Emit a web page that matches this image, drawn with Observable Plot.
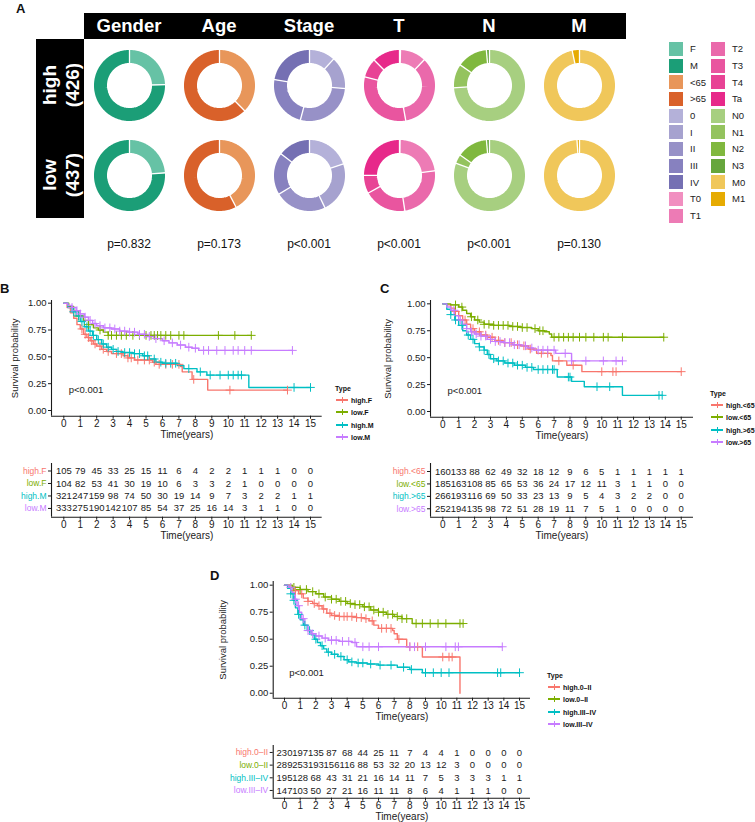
<!DOCTYPE html>
<html><head><meta charset="utf-8">
<script src="https://cdn.jsdelivr.net/npm/d3@7"></script>
<script src="https://cdn.jsdelivr.net/npm/@observablehq/plot@0.6"></script>
<style>
body{margin:0;background:#fff;}
#fig{position:relative;width:755px;height:822px;overflow:hidden;background:#fff;font-family:"Liberation Sans",Arial,Helvetica,sans-serif;color:#111;}
.abs{position:absolute;white-space:nowrap;line-height:1;}
.abs svg{display:block}
</style></head><body><div id="fig"></div>
<script>
const FONT = '"Liberation Sans", Arial, Helvetica, sans-serif';
const fig = document.getElementById("fig");

// ---------- Panel A: clinical composition of the two risk groups ----------
const variables = ["Gender", "Age", "Stage", "T", "N", "M"];
const riskGroups = ["high", "low"];
const riskGroupSizes = [426, 437];
const pValues = ["p=0.832", "p=0.173", "p<0.001", "p<0.001", "p<0.001", "p=0.130"];

const genderLevels = ["F", "M"];
const genderColors = ["#66c2a5", "#1b9e77"];
const genderHigh = [105, 321];
const genderLow = [104, 333];

const ageLevels = ["<65", ">65"];
const ageColors = ["#e8965a", "#d9612a"];
const ageHigh = [160, 266];
const ageLow = [185, 252];

const stageLevels = ["0", "I", "II", "III", "IV"];
const stageColors = ["#b4b1d9", "#a6a2cf", "#9791c7", "#8781bf", "#7570b3"];
const stageHigh = [50, 62, 118, 100, 95];
const stageLow = [86, 101, 102, 83, 64];

const tLevels = ["T0", "T1", "T2", "T3", "T4", "Ta"];
const tColors = ["#f18fc0", "#ed7bb5", "#ea69ab", "#e9559f", "#e84395", "#e7298a"];
const tHigh = [2, 50, 149, 135, 37, 53];
const tLow = [1, 99, 108, 84, 36, 109];

const nLevels = ["N0", "N1", "N2", "N3"];
const nColors = ["#a7cf80", "#94c35e", "#80b83e", "#66a63c"];
const nHigh = [315, 46, 59, 6];
const nLow = [352, 18, 61, 6];

const mLevels = ["M0", "M1"];
const mColors = ["#f0c75a", "#e6ab02"];
const mHigh = [412, 14];
const mLow = [432, 5];

// ---------- Panels B-D: Kaplan-Meier curves ----------
const years = d3.range(0, 16);
const survTicks = [0, 0.25, 0.5, 0.75, 1];
const kmColors = ["#F8766D", "#7CAE00", "#00BFC4", "#C77CFF"];

// B: risk group x gender
const typesB = ["high.F", "low.F", "high.M", "low.M"];
const survHighF = [[0,1],[0.2,0.96],[0.4,0.91],[0.6,0.86],[0.8,0.80],[1.0,0.76],[1.2,0.71],[1.4,0.68],[1.6,0.65],[1.8,0.62],[2.0,0.60],[2.3,0.57],[2.6,0.55],[2.9,0.53],[3.6,0.51],[3.9,0.49],[4.3,0.47],[5.4,0.45],[5.6,0.43],[7.1,0.41],[7.2,0.36],[7.8,0.29],[8.75,0.19],[13.6,0.19]];
const survLowF = [[0,1],[0.3,0.97],[0.6,0.93],[0.9,0.88],[1.2,0.84],[1.5,0.80],[1.8,0.77],[2.1,0.75],[2.4,0.73],[2.7,0.70],[11.4,0.70]];
const survHighM = [[0,1],[0.25,0.96],[0.5,0.92],[0.75,0.88],[1.0,0.83],[1.25,0.78],[1.5,0.74],[1.75,0.70],[2.0,0.66],[2.3,0.62],[2.6,0.59],[2.9,0.57],[3.2,0.55],[3.6,0.54],[4.2,0.53],[4.8,0.51],[5.2,0.48],[5.6,0.45],[6.0,0.44],[6.9,0.42],[7.3,0.39],[8.1,0.36],[8.7,0.33],[11.25,0.215],[15,0.215]];
const survLowM = [[0,1],[0.25,0.98],[0.5,0.96],[0.75,0.93],[1.0,0.90],[1.25,0.87],[1.5,0.84],[1.75,0.81],[2.0,0.79],[2.4,0.77],[2.9,0.76],[3.4,0.74],[3.9,0.73],[4.5,0.71],[5.0,0.69],[5.5,0.67],[6.0,0.65],[6.4,0.63],[6.9,0.61],[7.4,0.59],[7.8,0.58],[8.2,0.56],[13.9,0.56]];
const censHighF = [1.1,1.3,1.5,1.7,1.9,2.2,2.4,2.7,3.2,3.5,3.9,4.1,4.5,4.9,5.2,5.5,5.8,6.2,6.6,7.0,7.9,10.1,13.6];
const censLowF = [0.9,1.5,2.2,2.7,2.9,3.2,3.5,3.8,4.2,4.6,5.0,5.3,5.5,5.7,5.9,6.2,6.5,7.0,7.3,9.4,10.4,11.4];
const censHighM = [0.6,0.9,1.1,1.4,1.6,1.8,2.1,2.4,2.7,3.0,3.3,3.7,4.0,4.3,4.6,4.9,5.1,5.5,5.9,6.2,6.5,6.8,7.6,8.3,8.9,9.5,10.0,10.3,10.6,10.8,14.0,15.0];
const censLowM = [0.5,0.8,1.0,1.3,1.6,1.9,2.2,2.5,2.8,3.1,3.4,3.7,4.0,4.3,4.6,4.9,5.2,5.6,6.1,6.6,7.1,7.6,8.0,8.5,8.8,9.3,9.8,10.3,10.6,11.0,11.4,13.9];
const riskHighF = [105,79,45,33,25,15,11,6,4,2,2,1,1,1,0,0];
const riskLowF = [104,82,53,41,30,19,10,6,3,3,2,1,0,0,0,0];
const riskHighM = [321,247,159,98,74,50,30,19,14,9,7,3,2,2,1,1];
const riskLowM = [333,275,190,142,107,85,54,37,25,16,14,3,1,1,0,0];

// C: risk group x age
const typesC = ["high.<65", "low.<65", "high.>65", "low.>65"];
const survHighYoung = [[0,1],[0.25,0.99],[0.5,0.96],[0.75,0.93],[1.0,0.89],[1.25,0.85],[1.5,0.81],[1.75,0.77],[2.0,0.74],[2.4,0.71],[2.8,0.69],[3.3,0.66],[3.8,0.64],[4.4,0.62],[4.9,0.61],[5.4,0.58],[5.9,0.54],[6.8,0.52],[6.9,0.47],[7.8,0.43],[8.75,0.37],[15,0.37]];
const survLowYoung = [[0,1],[0.5,0.99],[1.0,0.97],[1.25,0.94],[1.5,0.91],[1.75,0.88],[2.0,0.85],[2.3,0.83],[2.6,0.81],[3.2,0.80],[4.2,0.79],[4.9,0.78],[5.6,0.77],[6.0,0.75],[6.4,0.74],[6.7,0.72],[6.85,0.69],[13.9,0.69]];
const survHighOld = [[0,1],[0.25,0.95],[0.5,0.90],[0.75,0.85],[1.0,0.80],[1.25,0.75],[1.5,0.71],[1.75,0.67],[2.0,0.63],[2.3,0.60],[2.6,0.57],[2.8,0.53],[3.0,0.49],[3.4,0.47],[3.9,0.45],[4.5,0.43],[5.2,0.41],[5.7,0.39],[7.2,0.32],[8.1,0.28],[8.9,0.23],[11.3,0.15],[13.8,0.15]];
const survLowOld = [[0,1],[0.25,0.97],[0.5,0.94],[0.75,0.89],[1.0,0.85],[1.25,0.81],[1.5,0.77],[1.75,0.74],[2.0,0.72],[2.4,0.70],[2.8,0.67],[3.3,0.65],[3.8,0.64],[4.4,0.62],[4.9,0.61],[5.3,0.59],[5.7,0.57],[7.1,0.54],[8.1,0.47],[11.3,0.47]];
const censHighYoung = [0.8,1.4,1.9,2.3,2.7,3.1,3.5,3.9,4.3,4.7,5.1,5.5,6.2,6.6,7.3,8.2,10.0,10.7,10.9,15.0];
const censLowYoung = [0.8,1.2,1.8,2.2,2.6,2.9,3.2,3.5,3.8,4.1,4.4,4.7,5.0,5.3,5.8,6.1,6.3,7.0,7.3,7.6,7.9,8.2,8.6,9.0,9.5,10.1,10.4,11.3,13.9];
const censHighOld = [0.5,0.8,1.2,1.6,1.9,2.3,2.6,2.9,3.2,3.5,3.8,4.1,4.4,4.7,5.0,5.3,5.6,6.0,6.3,6.6,6.9,7.0,7.9,8.0,9.7,10.5,13.6,13.8];
const censLowOld = [0.7,1.1,1.5,1.8,2.1,2.4,2.7,3.0,3.3,3.6,3.9,4.2,4.5,4.8,5.2,5.6,6.0,6.3,6.6,7.0,7.7,8.1,9.0,10.1,10.9,11.3];
const riskHighYoung = [160,133,88,62,49,32,18,12,9,6,5,1,1,1,1,1];
const riskLowYoung = [185,163,108,85,65,53,36,24,17,12,11,3,1,1,0,0];
const riskHighOld = [266,193,116,69,50,33,23,13,9,5,4,3,2,2,0,0];
const riskLowOld = [252,194,135,98,72,51,28,19,11,7,5,1,0,0,0,0];

// D: risk group x stage
const typesD = ["high.0–II", "low.0–II", "high.III–IV", "low.III–IV"];
const survHighEarly = [[0,1],[0.3,0.98],[0.6,0.95],[0.9,0.92],[1.2,0.88],[1.5,0.85],[1.8,0.83],[2.1,0.81],[2.4,0.78],[2.7,0.74],[3.0,0.72],[3.5,0.71],[4.6,0.70],[5.1,0.69],[5.4,0.67],[5.7,0.63],[6.0,0.60],[6.9,0.58],[7.0,0.55],[7.2,0.50],[7.8,0.43],[8.8,0.335],[11.2,0]];
const survLowEarly = [[0,1],[0.5,0.98],[1.0,0.96],[1.5,0.94],[2.0,0.92],[2.5,0.89],[3.0,0.87],[3.5,0.85],[4.0,0.83],[4.5,0.82],[5.0,0.80],[5.5,0.77],[6.0,0.75],[6.5,0.73],[7.0,0.71],[7.5,0.69],[8.15,0.645],[11.4,0.645]];
const survHighLate = [[0,1],[0.2,0.97],[0.4,0.92],[0.55,0.86],[0.7,0.79],[0.85,0.73],[1.0,0.68],[1.2,0.63],[1.45,0.58],[1.7,0.54],[1.9,0.50],[2.1,0.47],[2.3,0.44],[2.5,0.41],[2.7,0.38],[3.0,0.36],[3.4,0.34],[3.8,0.31],[4.1,0.29],[4.6,0.28],[5.3,0.27],[6.0,0.26],[7.2,0.24],[8.0,0.22],[8.8,0.19],[15,0.19]];
const survLowLate = [[0,1],[0.3,0.98],[0.5,0.93],[0.65,0.87],[0.8,0.81],[0.95,0.75],[1.1,0.69],[1.3,0.63],[1.5,0.58],[1.7,0.55],[2.0,0.53],[2.4,0.51],[2.8,0.49],[3.5,0.48],[4.3,0.47],[4.6,0.43],[13.9,0.43]];
const censHighEarly = [0.7,1.1,1.5,1.9,2.2,2.5,2.9,3.2,3.5,3.8,4.0,4.3,4.6,4.9,5.2,5.6,6.2,6.5,6.8,7.3,8.0,8.5,10.1,10.5,10.7];
const censLowEarly = [0.6,1.0,1.4,1.8,2.2,2.6,3.0,3.3,3.6,3.9,4.2,4.5,4.8,5.1,5.4,5.7,6.0,6.3,6.6,6.9,7.2,7.5,7.8,8.4,8.8,9.3,9.8,10.3,11.2,11.4];
const censHighLate = [0.4,0.6,0.9,1.3,1.6,2.0,2.4,2.8,3.2,3.6,4.0,4.3,4.7,5.0,5.5,6.1,6.8,7.6,8.1,9.0,9.5,10.0,10.5,13.6,13.8,15.0];
const censLowLate = [0.4,0.7,0.9,1.2,1.5,1.8,2.2,2.6,3.0,3.3,3.7,4.1,4.5,5.0,5.4,6.0,8.0,8.3,9.0,10.3,10.9,11.1,13.9];
const riskHighEarly = [230,197,135,87,68,44,25,11,7,4,4,1,0,0,0,0];
const riskLowEarly = [289,253,193,156,116,88,53,32,20,13,12,3,0,0,0,0];
const riskHighLate = [195,128,68,43,31,21,16,14,11,7,5,3,3,3,1,1];
const riskLowLate = [147,103,50,27,21,16,11,11,8,6,4,1,1,1,0,0];

// ---------- helpers ----------
function text(str, x, baseline, {size = 12, weight = "normal", color = "#111", anchor = "start"} = {}) {
  const d = document.createElement("div");
  d.className = "abs";
  d.textContent = str;
  d.style.fontSize = size + "px";
  d.style.fontWeight = weight;
  d.style.color = color;
  d.style.left = x + "px";
  d.style.top = (baseline - 0.8465 * size) + "px";
  if (anchor === "middle") d.style.transform = "translateX(-50%)";
  if (anchor === "end") d.style.transform = "translateX(-100%)";
  fig.appendChild(d);
  return d;
}
function rotatedText(str, cx, cy, size, color) {
  const d = document.createElement("div");
  d.className = "abs";
  d.textContent = str;
  d.style.fontSize = size + "px";
  d.style.fontWeight = "bold";
  d.style.color = color;
  d.style.left = cx + "px";
  d.style.top = cy + "px";
  d.style.transform = "translate(-50%,-50%) rotate(-90deg)";
  fig.appendChild(d);
}
function rect(x, y, w, h, fill) {
  const d = document.createElement("div");
  d.className = "abs";
  Object.assign(d.style, {left: x + "px", top: y + "px", width: w + "px", height: h + "px", background: fill});
  fig.appendChild(d);
}
function place(node, left, top) {
  const w = document.createElement("div");
  w.className = "abs";
  w.style.left = left + "px";
  w.style.top = top + "px";
  w.appendChild(node);
  fig.appendChild(w);
}
function stepAt(curve, t) {
  let s = curve[0][1];
  for (const [tt, ss] of curve) { if (tt <= t) s = ss; else break; }
  return s;
}

// ---------- Panel A ----------
const donutVars = [
  {name: "Gender", levels: genderLevels, colors: genderColors, high: genderHigh, low: genderLow},
  {name: "Age", levels: ageLevels, colors: ageColors, high: ageHigh, low: ageLow},
  {name: "Stage", levels: stageLevels, colors: stageColors, high: stageHigh, low: stageLow},
  {name: "T", levels: tLevels, colors: tColors, high: tHigh, low: tLow},
  {name: "N", levels: nLevels, colors: nColors, high: nHigh, low: nLow},
  {name: "M", levels: mLevels, colors: mColors, high: mHigh, low: mLow}
];
const gridLeft = 84, gridTop = 40, cell = 90;
const R_MID = 0.806, R_IN = 0.6, R_OUT = 1.02;

const arcRows = [], sepRows = [];
for (const v of donutVars) {
  for (const g of riskGroups) {
    const counts = v[g];
    const total = d3.sum(counts);
    let acc = 0;
    counts.forEach((c, i) => {
      const a0 = acc / total * 2 * Math.PI;
      acc += c;
      const a1 = acc / total * 2 * Math.PI;
      const n = Math.max(2, Math.ceil((a1 - a0) / (Math.PI / 90)));
      for (let k = 0; k <= n; ++k) {
        const a = a0 + (a1 - a0) * k / n;
        arcRows.push({variable: v.name, group: g, level: v.levels[i], key: `${v.name}-${g}-${i}`,
                      x: R_MID * Math.sin(a), y: R_MID * Math.cos(a)});
      }
      sepRows.push({variable: v.name, group: g, a: a0});
    });
  }
}
const allLevels = donutVars.flatMap(v => v.levels);
const allColors = donutVars.flatMap(v => v.colors);

const donuts = Plot.plot({
  width: cell * variables.length,
  height: cell * riskGroups.length,
  margin: 0,
  fx: {domain: variables, axis: null, padding: 0},
  fy: {domain: riskGroups, axis: null, padding: 0},
  x: {domain: [-1.25, 1.25], axis: null},
  y: {domain: [-1.25, 1.25], axis: null},
  color: {domain: allLevels, range: allColors},
  style: {background: "transparent", overflow: "visible"},
  marks: [
    Plot.line(arcRows, {fx: "variable", fy: "group", x: "x", y: "y", z: "key", stroke: "level",
                        strokeWidth: 13, strokeLinecap: "butt", strokeLinejoin: "round"}),
    Plot.link(sepRows, {fx: "variable", fy: "group",
                        x1: d => R_IN * Math.sin(d.a), y1: d => R_IN * Math.cos(d.a),
                        x2: d => R_OUT * Math.sin(d.a), y2: d => R_OUT * Math.cos(d.a),
                        stroke: "white", strokeWidth: 1.3})
  ]
});

// header strips
rect(gridLeft, 13, cell * variables.length + 2, 26, "#000");
rect(36, 39, gridLeft - 36, cell * riskGroups.length - 1, "#000");
variables.forEach((v, i) => text(v, gridLeft + cell * i + cell / 2, 33, {size: 18.5, weight: "bold", color: "#fff", anchor: "middle"}));
riskGroups.forEach((g, i) => {
  const cy = gridTop + cell * i + cell / 2;
  rotatedText(g, 48.5, cy, 19, "#fff");
  rotatedText(`(${riskGroupSizes[i]})`, 72, cy - 0.5, 19, "#fff");
});
place(donuts, gridLeft, gridTop);
pValues.forEach((p, i) => text(p, gridLeft + cell * i + cell / 2, 248, {size: 12, anchor: "middle"}));

// colour key
allLevels.forEach((lv, i) => {
  const col = i < 11 ? 0 : 1;
  const row = col ? i - 11 : i;
  const x = col ? 711 : 669;
  const y = 42 + row * 16.67;
  rect(x, y, 14, 14, allColors[i]);
  text(lv, x + 21, y + 10.5, {size: 9.5, color: "#222"});
});

// panel letters
text("A", 16, 13.3, {size: 13, weight: "bold"});
text("B", 0, 293, {size: 13, weight: "bold"});
text("C", 380, 293, {size: 13, weight: "bold"});
text("D", 210, 580, {size: 13, weight: "bold"});

// ---------- Kaplan-Meier panel builder ----------
function kmPanel(cfg) {
  const {groups, curves, censors, risk, main: m, table: tb, legend: lg} = cfg;
  const color = {domain: groups, range: kmColors};
  const ink = "#1a1a1a";
  const curveRows = groups.flatMap((g, i) => curves[i].map(([t, s]) => ({group: g, t, s})));
  const censorRows = groups.flatMap((g, i) => censors[i].map(t => ({group: g, t, s: stepAt(curves[i], t)})));
  const style = {fontFamily: FONT, fontSize: "9.5px", color: ink, background: "transparent", overflow: "visible"};
  const width = m.r - m.left + 10;

  const curvePlot = Plot.plot({
    width, height: m.b - m.top + 30,
    marginLeft: m.l - m.left, marginRight: 10, marginTop: m.t - m.top, marginBottom: 30,
    x: {domain: m.xDomain}, y: {domain: m.yDomain}, color, style,
    marks: [
      Plot.axisX({ticks: years, tickSize: 3, tickPadding: 1, label: "Time(years)", labelAnchor: "center", labelArrow: "none", labelOffset: 22, fontSize: 10}),
      Plot.axisY({ticks: survTicks, tickFormat: d3.format(".2f"), tickSize: 3, tickPadding: 2, label: "Survival probability", labelAnchor: "center", labelArrow: "none", labelOffset: m.yLabelOffset, fontSize: 9.5}),
      Plot.ruleX([m.xDomain[0]], {stroke: ink, strokeWidth: 1.1}),
      Plot.ruleY([m.yDomain[0]], {stroke: ink, strokeWidth: 1.1}),
      Plot.line(curveRows, {x: "t", y: "s", z: "group", stroke: "group", curve: "step-after", strokeWidth: 1.4}),
      Plot.dot(censorRows, {x: "t", y: "s", stroke: "group", symbol: "plus", r: 2.9, strokeWidth: 1}),
      Plot.text(["p<0.001"], {x: 0.3, y: 0.19, text: d => d, textAnchor: "start", fontSize: 9.5, fill: ink})
    ]
  });
  place(curvePlot, m.left, m.top);

  const rowIndex = groups.map((g, i) => i);
  const riskRows = groups.flatMap((g, i) => risk[i].map((n, k) => ({group: g, row: i, t: years[k], n})));
  const tablePlot = Plot.plot({
    width, height: tb.b - tb.top + 30,
    marginLeft: m.l - m.left, marginRight: 10, marginTop: tb.t - tb.top, marginBottom: 30,
    x: {domain: m.xDomain}, y: {domain: tb.yDomain}, color, style,
    marks: [
      Plot.axisX({ticks: years, tickSize: 3, tickPadding: 1, label: "Time(years)", labelAnchor: "center", labelArrow: "none", labelOffset: 22, fontSize: 10}),
      Plot.axisY({ticks: rowIndex, tickSize: 3, tickFormat: () => "", label: null}),
      Plot.ruleX([m.xDomain[0]], {stroke: ink, strokeWidth: 1.1}),
      Plot.ruleY([tb.yDomain[0]], {stroke: ink, strokeWidth: 1.1}),
      Plot.text(groups, {x: m.xDomain[0], y: (d, i) => i, text: d => d, fill: d => d, textAnchor: "end", dx: -5, fontSize: 8.5}),
      Plot.text(riskRows, {x: "t", y: "row", text: "n", fontSize: 9.5, fill: ink})
    ]
  });
  place(tablePlot, m.left, tb.top);

  // legend
  const lx = Math.round(lg.x), ly = Math.round(lg.y);
  text("Type", lx, ly + 2.5, {size: 7, weight: "bold"});
  groups.forEach((g, i) => {
    const y = Math.round(ly + 12.2 * (i + 1));
    rect(lx + 1, y - 1, 12, 1.5, kmColors[i]);
    rect(lx + 6.5, y - 3, 1.2, 5.5, kmColors[i]);
    text(g, lx + 16, y + 2.5, {size: 7, weight: "bold"});
  });
}

kmPanel({
  groups: typesB,
  curves: [survHighF, survLowF, survHighM, survLowM],
  censors: [censHighF, censLowF, censHighM, censLowM],
  risk: [riskHighF, riskLowF, riskHighM, riskLowM],
  main: {left: 0, top: 290, l: 51, r: 321.7, t: 300, b: 415.7, xDomain: [-0.748, 15.71], yDomain: [-0.053, 1.025], yLabelOffset: 40},
  table: {top: 455, t: 463, b: 516.7, yDomain: [3.7, -0.6]},
  legend: {x: 335, y: 388}
});
kmPanel({
  groups: typesC,
  curves: [survHighYoung, survLowYoung, survHighOld, survLowOld],
  censors: [censHighYoung, censLowYoung, censHighOld, censLowOld],
  risk: [riskHighYoung, riskLowYoung, riskHighOld, riskLowOld],
  main: {left: 370, top: 290, l: 430, r: 693, t: 300, b: 416.7, xDomain: [-0.774, 15.77], yDomain: [-0.053, 1.031], yLabelOffset: 46},
  table: {top: 455, t: 463, b: 516.7, yDomain: [3.676, -0.644]},
  legend: {x: 710, y: 393.3}
});
kmPanel({
  groups: typesD,
  curves: [survHighEarly, survLowEarly, survHighLate, survLowLate],
  censors: [censHighEarly, censLowEarly, censHighLate, censLowLate],
  risk: [riskHighEarly, riskLowEarly, riskHighLate, riskLowLate],
  main: {left: 200, top: 572, l: 272.7, r: 530, t: 581, b: 697.7, xDomain: [-0.72, 15.70], yDomain: [-0.046, 1.034], yLabelOffset: 53.7},
  table: {top: 738, t: 745, b: 797.7, yDomain: [3.61, -0.55]},
  legend: {x: 546.7, y: 675}
});
</script></body></html>
